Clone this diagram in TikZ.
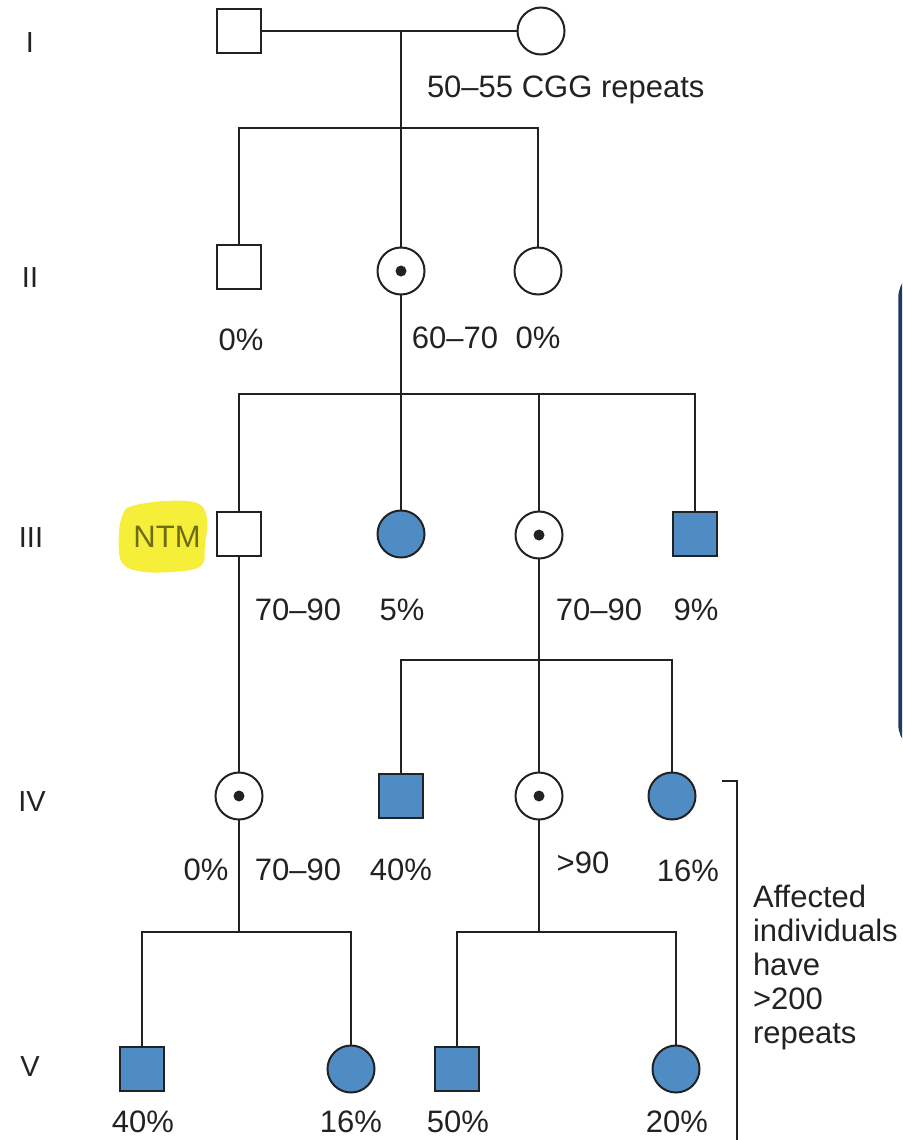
\documentclass[tikz,border=0pt]{standalone}
\usepackage{fontspec}
\setmainfont{Liberation Sans}
\definecolor{ink}{HTML}{222222}
\definecolor{affblue}{HTML}{4E8CC3}
\definecolor{hl}{HTML}{F5EF3A}
\definecolor{ntmtext}{HTML}{6F6B12}
\definecolor{navy}{HTML}{1B3A66}
\begin{document}
\begin{tikzpicture}[x=1pt,y=-1pt,
  line width=2pt,
  every node/.style={inner sep=0pt, outer sep=0pt},
  lbl/.style={font=\fontsize{31}{34}\selectfont, text=ink, anchor=base},
  gen/.style={font=\fontsize{29}{34}\selectfont, text=ink},
  male/.style={draw=ink, fill=white, rectangle, minimum size=44pt},
  female/.style={draw=ink, fill=white, circle, minimum size=47pt},
  affected/.style={fill=affblue},
  carrier/.style={path picture={\fill[ink] (path picture bounding box.center) circle (5.5pt);}},
  link/.style={draw=ink, line width=2pt},
]
\useasboundingbox (0,0) rectangle (902,1140);

% frame edge at the right border
\begin{scope}
  \clip (0,0) rectangle (902,1140);
  \draw[navy, line width=4.5pt, rounded corners=28pt] (900.5,270) rectangle (1000,752);
\end{scope}

% generation numerals
\node[gen] (gI)   at (30,43)   {I};
\node[gen] (gII)  at (30,278)  {II};
\node[gen] (gIII) at (31,538)  {III};
\node[gen] (gIV)  at (32,802)  {IV};
\node[gen] (gV)   at (30,1067) {V};

% generation I
\node[male]   (i1) at (239,31)  {};
\node[female] (i2) at (541,31)  {};
% generation II
\node[male]            (ii1) at (239,267) {};
\node[female, carrier] (ii2) at (401,271) {};
\node[female]          (ii3) at (538,271) {};
% generation III
\fill[hl] plot[smooth cycle, tension=0.6] coordinates
  {(132,506) (165,501) (197,503) (207,518) (205,545) (201,566) (172,572) (138,571) (121,561) (119,533) (123,514)};
\node[lbl, text=ntmtext] (ntm) at (167,547) {NTM};
\node[male]              (iii1) at (239,534) {};
\node[female, affected]  (iii2) at (401,534) {};
\node[female, carrier]   (iii3) at (539,535) {};
\node[male, affected]    (iii4) at (695,534) {};
% generation IV
\node[female, carrier]   (iv1) at (239,796) {};
\node[male, affected]    (iv2) at (401,796) {};
\node[female, carrier]   (iv3) at (539,796) {};
\node[female, affected]  (iv4) at (672,796) {};
% generation V
\node[male, affected]    (v1) at (142,1069) {};
\node[female, affected]  (v2) at (351,1069) {};
\node[male, affected]    (v3) at (457,1069) {};
\node[female, affected]  (v4) at (676,1069) {};

% mating and descent lines
\coordinate (mI)   at (401,31);
\coordinate (sII)  at (401,128);
\coordinate (sIII) at (401,394);
\coordinate (sIV)  at (539,660);
\coordinate (sVa)  at (239,932);
\coordinate (sVb)  at (539,932);

\draw[link] (i1.east) -- (i2.west);
\draw[link] (mI) -- (ii2.north);
\draw[link] (ii1.north) -- (ii1.north |- sII) -- (ii3.north |- sII) -- (ii3.north);

\draw[link] (ii2.south) -- (iii2.north);
\draw[link] (iii1.north) -- (iii1.north |- sIII) -- (iii4.north |- sIII) -- (iii4.north);
\draw[link] (iii3.north) -- (iii3.north |- sIII);

\draw[link] (iii1.south) -- (iv1.north);
\draw[link] (iii3.south) -- (iv3.north);
\draw[link] (iv2.north) -- (iv2.north |- sIV) -- (iv4.north |- sIV) -- (iv4.north);

\draw[link] (iv1.south) -- (sVa);
\draw[link] (v1.north) -- (v1.north |- sVa) -- (v2.north |- sVa) -- (v2.north);
\draw[link] (iv3.south) -- (sVb);
\draw[link] (v3.north) -- (v3.north |- sVb) -- (v4.north |- sVb) -- (v4.north);

% repeat counts and risks
\node[lbl, anchor=base west] (tI) at (427,97) {50–55 CGG repeats};
\node[lbl] (tII1) at (241,350) {0\%};
\node[lbl] (tII2) at (455,348) {60–70};
\node[lbl] (tII3) at (538,348) {0\%};
\node[lbl] (tIII1) at (298,620) {70–90};
\node[lbl] (tIII2) at (402,620) {5\%};
\node[lbl] (tIII3) at (599,620) {70–90};
\node[lbl] (tIII4) at (696,620) {9\%};
\node[lbl] (tIV1) at (206,880) {0\%};
\node[lbl] (tIV2) at (298,880) {70–90};
\node[lbl] (tIV3) at (401,880) {40\%};
\node[lbl] (tIV4) at (583,873) {>90};
\node[lbl] (tIV5) at (688,881) {16\%};
\node[lbl] (tV1) at (143,1132) {40\%};
\node[lbl] (tV2) at (351,1132) {16\%};
\node[lbl] (tV3) at (458,1132) {50\%};
\node[lbl] (tV4) at (677,1132) {20\%};

% bracket over the affected individuals
\coordinate (brA) at (722,781);
\coordinate (brB) at (737,781);
\coordinate (brC) at (737,1145);
\draw[link] (brA) -- (brB) -- (brC);
\node[lbl, anchor=north west, align=left] (note) at (753,885)
  {Affected\\individuals\\have\\>200\\repeats};
\end{tikzpicture}
\end{document}
